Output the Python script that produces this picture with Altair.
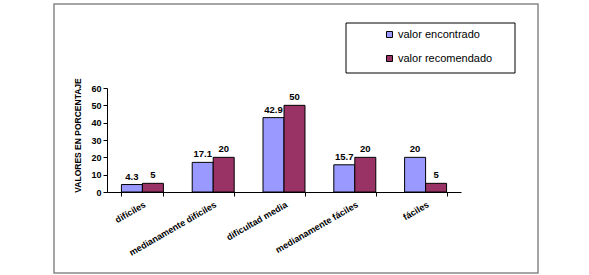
import altair as alt
import pandas as pd

categories = ["difíciles", "medianamente difíciles", "dificultad media", "medianamente fáciles", "fáciles"]
encontrado = [4.3, 17.1, 42.9, 15.7, 20]
recomendado = [5, 20, 50, 20, 5]
series = ["valor encontrado", "valor recomendado"]
colors = ["#9999FF", "#993366"]
y_ticks = [0, 10, 20, 30, 40, 50, 60]

rows = []
for c, a, b in zip(categories, encontrado, recomendado):
    rows.append({"categoria": c, "serie": series[0], "valor": a, "etiqueta": f"{a:g}"})
    rows.append({"categoria": c, "serie": series[1], "valor": b, "etiqueta": f"{b:g}"})
df = pd.DataFrame(rows)

FONT = "Liberation Sans"

x_enc = alt.X("categoria:N", sort=categories, title=None,
              scale=alt.Scale(paddingInner=0.407, paddingOuter=0.2035),
              axis=alt.Axis(labelAngle=-30, labelAlign="right", labelBaseline="top",
                            labelFont=FONT, labelFontSize=9, labelFontWeight="bold",
                            labelColor="black", domainColor="black", tickColor="black",
                            tickBand="extent", tickSize=4, labelPadding=4))
xoff = alt.XOffset("serie:N", sort=series, scale=alt.Scale(paddingInner=0, paddingOuter=0))
y_enc = alt.Y("valor:Q", scale=alt.Scale(domain=[0, 60]),
              title="VALORES  EN  PORCENTAJE",
              axis=alt.Axis(values=y_ticks, grid=False, labelOverlap=False,
                            labelFont=FONT, labelFontSize=9, labelFontWeight="bold",
                            labelColor="black", domainColor="black", tickColor="black",
                            tickSize=4, titleFont=FONT, titleFontSize=8.5,
                            titleFontWeight="bold", titleColor="black", titlePadding=8,
                            titleY=47))

bars = alt.Chart(df).mark_bar(stroke="black", strokeWidth=1).encode(
    x=x_enc, xOffset=xoff, y=y_enc,
    color=alt.Color("serie:N", sort=series,
                    scale=alt.Scale(domain=series, range=colors),
                    legend=alt.Legend(title=None, orient="none", legendX=277, legendY=-59,
                                      symbolType="square", symbolSize=36,
                                      symbolStrokeColor="black", symbolStrokeWidth=1,
                                      labelFont=FONT, labelFontSize=11, labelColor="black",
                                      rowPadding=12, labelOffset=3)),
)

labels = alt.Chart(df).mark_text(baseline="bottom", dy=-3, font=FONT, fontSize=9.5,
                                 fontWeight="bold", color="black").encode(
    x=x_enc, xOffset=xoff, y=y_enc, text="etiqueta:N"
)

one = pd.DataFrame({"a": [0]})
frame = alt.Chart(one).mark_rect(fillOpacity=0, stroke="#888888", strokeWidth=1.5).encode(
    x=alt.value(-53), x2=alt.value(431), y=alt.value(-84), y2=alt.value(185)
)
legend_box = alt.Chart(one).mark_rect(fillOpacity=0, stroke="black", strokeWidth=1).encode(
    x=alt.value(239), x2=alt.value(408), y=alt.value(-65), y2=alt.value(-15)
)

chart = alt.layer(frame, legend_box, bars, labels).properties(
    width=354, height=104,
    autosize=alt.AutoSizeParams(type="none"),
    padding={"left": 107, "top": 88, "right": 128, "bottom": 83},
    background="white",
).configure_view(stroke=None)

chart.save("out.html", embed_options={"renderer": "svg", "actions": False})
